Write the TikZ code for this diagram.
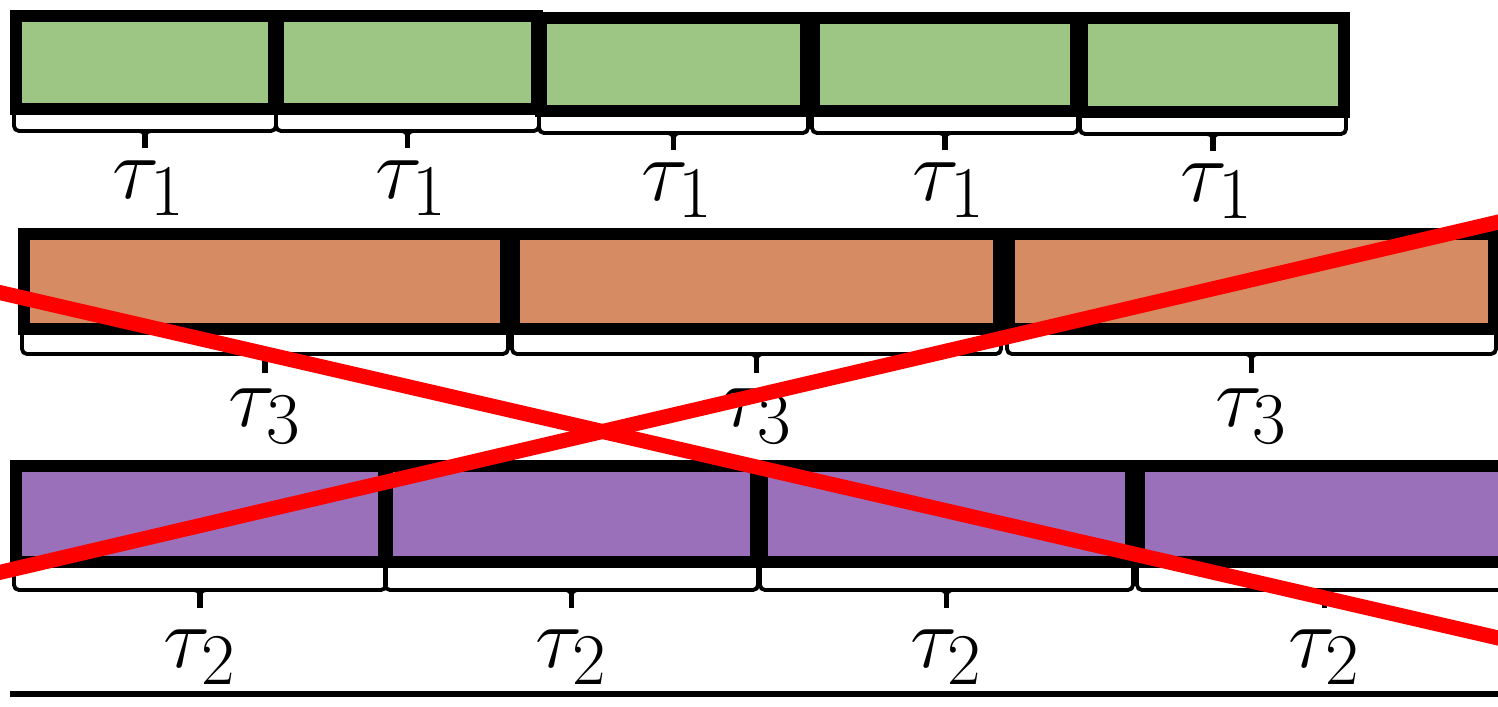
\documentclass[tikz,border=0pt]{standalone}
\usetikzlibrary{calc,fit}
\definecolor{cellgreen}{HTML}{9DC583}
\definecolor{cellorange}{HTML}{D68B63}
\definecolor{cellpurple}{HTML}{9A70BA}
\definecolor{crossred}{HTML}{FF0000}
% a slot: name, fill colour, corners of the frame's centre line (y measured downwards)
\newcommand\cellbox[6]{\node[cell, fill=#2, fit={(#3,-#4) (#5,-#6)}] (#1) {};}
% a flat brace under a slot: slot name, depth of the bar, depth of the tick
\newcommand\tickbrace[3]{%
  \draw[bracepen] ($(#1.south west)+(4,0)$) |- ($(#1.south)+(0,-#2)$) -| ($(#1.south east)+(-4,0)$);
  \draw[bracepen] ($(#1.south)+(-6,-#2)$) to[out=0,in=90] ($(#1.south)+(0,-#2-6)$);
  \draw[bracepen] ($(#1.south)+(6,-#2)$) to[out=180,in=90] ($(#1.south)+(0,-#2-6)$);
  \draw[tickpen] ($(#1.south)+(0,-#2-3)$) -- ($(#1.south)+(0,-#3)$);}
\begin{document}
\begin{tikzpicture}[x=0.01cm, y=0.01cm,
  cell/.style={draw=black, line width=0.12cm, rectangle, inner sep=0pt, outer sep=0.06cm},
  bracepen/.style={line width=1.1pt, rounded corners=0.05cm},
  tickpen/.style={line width=1.6pt},
  lab/.style={anchor=north, inner sep=0pt, font=\fontsize{28}{33}\selectfont},
  cross/.style={draw=crossred, line width=0.15cm},
  baseline rule/.style={line width=0.06cm}]
\useasboundingbox (0,0) rectangle (1498,-707);
\clip (0,0) rectangle (1498,-707);

% first row: five green slots
\cellbox{g1}{cellgreen}{16}{16}{274}{109}
\cellbox{g2}{cellgreen}{278}{16}{537}{109}
\cellbox{g3}{cellgreen}{541}{18}{806}{111}
\cellbox{g4}{cellgreen}{814}{18}{1076}{111}
\cellbox{g5}{cellgreen}{1082}{18}{1344}{112}

% second row: three orange slots
\cellbox{o1}{cellorange}{24}{234}{506}{329}
\cellbox{o2}{cellorange}{514}{234}{999}{329}
\cellbox{o3}{cellorange}{1009}{234}{1494}{329}

% third row: four purple slots
\cellbox{p1}{cellpurple}{16}{466}{384}{562}
\cellbox{p2}{cellpurple}{387}{466}{756}{562}
\cellbox{p3}{cellpurple}{762}{466}{1131}{562}
\cellbox{p4}{cellpurple}{1139}{466}{1510}{562}

% braces and period labels
\foreach \c in {g1,g2,g3,g4,g5}{
  \tickbrace{\c}{16}{33}
  \node[lab] (\c-lab) at ($(\c.south)+(4,-45)$) {$\tau_1$};
}
\foreach \c in {o1,o2,o3}{
  \tickbrace{\c}{19}{38}
  \node[lab] (\c-lab) at ($(\c.south)+(0,-53)$) {$\tau_3$};
}
\foreach \c in {p1,p2,p3,p4}{
  \tickbrace{\c}{22}{40}
  \node[lab] (\c-lab) at ($(\c.south)+(0,-61)$) {$\tau_2$};
}

% time axis
\coordinate (axisL) at (10,-694);
\coordinate (axisR) at (1510,-694);
\draw[baseline rule] (axisL) -- (axisR);

% crossing-out lines
\coordinate (xa1) at (-20,-288);
\coordinate (xa2) at (1520,-643);
\coordinate (xb1) at (-20,-577);
\coordinate (xb2) at (1520,-217);
\draw[cross] (xa1) -- (xa2);
\draw[cross] (xb1) -- (xb2);
\end{tikzpicture}
\end{document}
